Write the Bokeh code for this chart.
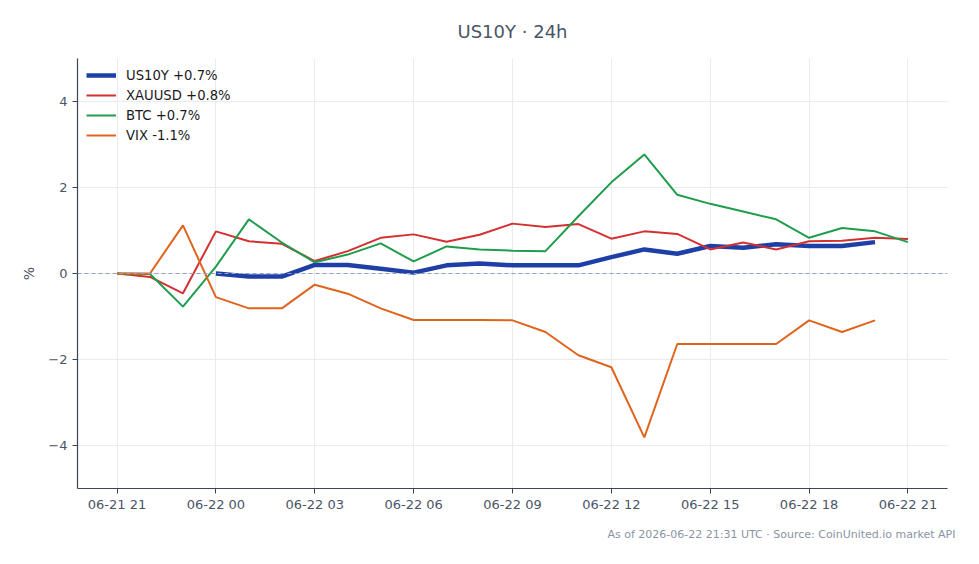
import pandas as pd
from bokeh.plotting import figure
from bokeh.models import (Span, Title, Legend, LegendItem, SingleIntervalTicker,
                          DatetimeTickFormatter, Range1d)
from bokeh.embed import file_html
from bokeh.resources import INLINE

# Hourly timestamps over the last 24h (UTC)
start = "2026-06-21 21:00"
n_hours = 25

# Percent change from the start of the window
us10y = [None, None, None, 0.00, -0.07, -0.07, 0.20, 0.20, 0.11, 0.02, 0.19, 0.23,
         0.19, 0.19, 0.19, 0.38, 0.56, 0.46, 0.64, 0.60, 0.68, 0.64, 0.64, 0.73, None]
xauusd = [0.00, -0.08, -0.46, 0.98, 0.75, 0.69, 0.29, 0.52, 0.83, 0.91, 0.74, 0.90,
          1.16, 1.08, 1.15, 0.81, 0.98, 0.92, 0.56, 0.72, 0.56, 0.75, 0.76, 0.83, 0.80]
btc = [0.00, -0.01, -0.77, 0.16, 1.26, 0.72, 0.26, 0.44, 0.70, 0.28, 0.63, 0.56,
       0.53, 0.52, 1.33, 2.12, 2.77, 1.83, 1.62, 1.44, 1.26, 0.83, 1.06, 0.98, 0.73]
vix = [0.00, 0.00, 1.12, -0.55, -0.81, -0.81, -0.26, -0.47, -0.81, -1.08, -1.08, -1.08,
       -1.09, -1.36, -1.90, -2.18, -3.81, -1.64, -1.64, -1.64, -1.64, -1.09, -1.36, -1.09, None]

series_names = ["US10Y +0.7%", "XAUUSD +0.8%", "BTC +0.7%", "VIX -1.1%"]
series_values = [us10y, xauusd, btc, vix]
series_colors = ["#1e3fa6", "#d33131", "#1f9d4c", "#e0641c"]
series_widths = [4.5, 2, 2, 2]

times = pd.date_range(start, periods=n_hours, freq="h")
pad = pd.Timedelta(hours=1.2)

TEXT = "#4a5568"
FONT = "DejaVu Sans"

p = figure(width=979, height=564, x_axis_type="datetime",
           output_backend="svg", toolbar_location=None,
           x_range=Range1d(times[0] - pad, times[-1] + pad),
           y_range=Range1d(-5, 5),
           min_border_left=77, min_border_right=32,
           min_border_top=58, min_border_bottom=76)

p.title.text = "US10Y · 24h"
p.title.align = "center"
p.title.text_font = FONT
p.title.text_font_size = "18px"
p.title.text_font_style = "normal"
p.title.text_color = TEXT
p.title.offset = 0
p.title.standoff = 34

p.outline_line_color = None
p.background_fill_color = "white"
p.border_fill_color = "white"

for ax in (p.xaxis[0], p.yaxis[0]):
    ax.axis_line_color = "#3b4454"
    ax.axis_line_width = 1.2
    ax.major_tick_line_color = "#3b4454"
    ax.minor_tick_line_color = None
    ax.major_tick_out = 5
    ax.major_tick_in = 0
    ax.major_label_text_font = FONT
    ax.major_label_text_font_size = "13px"
    ax.major_label_text_color = TEXT

p.xaxis.major_label_standoff = 3
p.xaxis.ticker = SingleIntervalTicker(interval=3 * 3600 * 1000, num_minor_ticks=0)
p.xaxis.formatter = DatetimeTickFormatter(hours="%m-%d %H", days="%m-%d %H",
                                          hourmin="%m-%d %H")
p.yaxis.ticker = SingleIntervalTicker(interval=2, num_minor_ticks=0)
p.yaxis.axis_label = "%"
p.yaxis.axis_label_text_font = FONT
p.yaxis.axis_label_text_font_style = "normal"
p.yaxis.axis_label_text_font_size = "14px"
p.yaxis.axis_label_text_color = TEXT
p.yaxis.axis_label_standoff = 8

p.xgrid.grid_line_color = "#e8ebf0"
p.ygrid.grid_line_color = "#e8ebf0"

p.add_layout(Span(location=0, dimension="width", line_color="#8fa2c2",
                  line_dash="4 3", line_width=1.2))

items = []
for name, vals, col, w in zip(series_names, series_values, series_colors, series_widths):
    ys = [float("nan") if v is None else v for v in vals]
    r = p.line(times, ys, line_color=col, line_width=w)
    items.append(LegendItem(label=name, renderers=[r]))

legend = Legend(items=items, location="top_left",
                label_text_font=FONT, label_text_font_size="13.2px",
                label_text_color="#1a1a1a", border_line_color=None,
                background_fill_alpha=0.0, glyph_width=30, glyph_height=16,
                spacing=4, padding=5, margin=9, label_standoff=10)
p.add_layout(legend)

footer = Title(text="As of 2026-06-22 21:31 UTC · Source: CoinUnited.io market API",
               align="right", text_font=FONT, text_font_size="11px",
               text_font_style="normal", text_color="#8a94a3", offset=-8,
               standoff=22)
p.add_layout(footer, "below")

open("out.html", "w").write(file_html(p, INLINE))
